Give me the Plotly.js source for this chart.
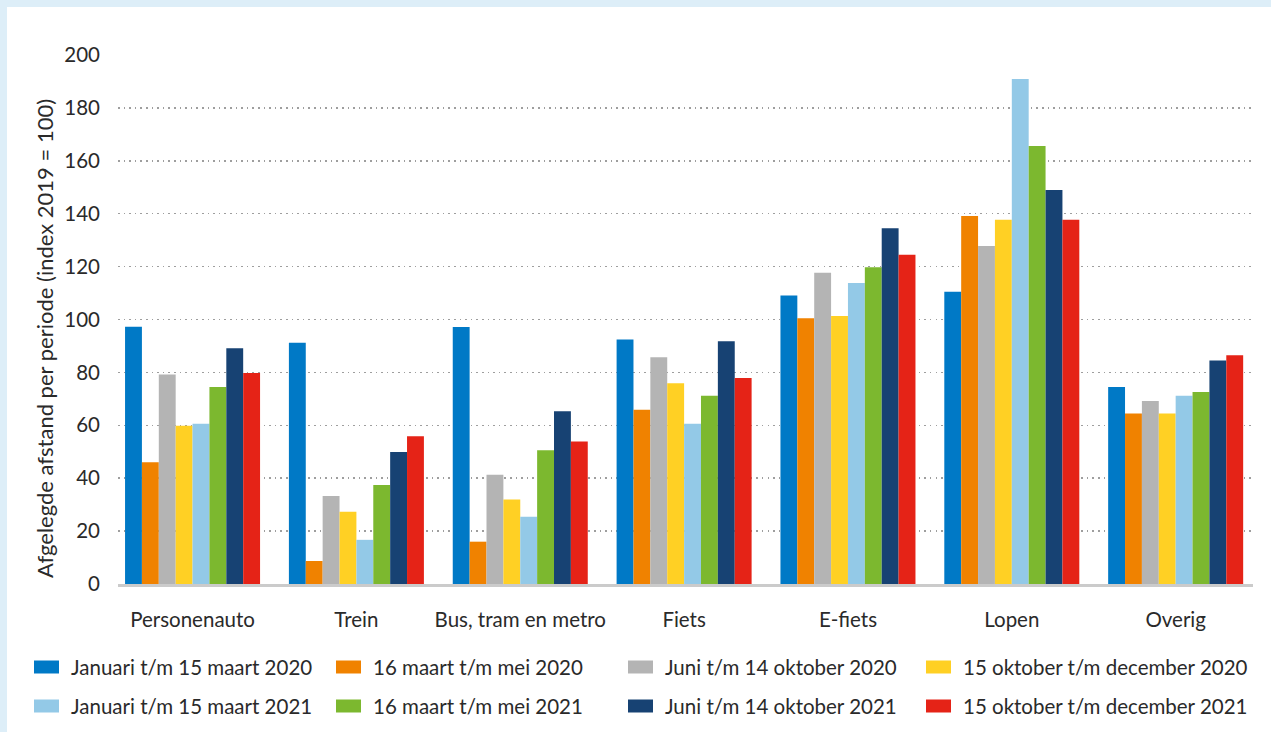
<!DOCTYPE html>
<html>
<head>
<meta charset="utf-8">
<script src="https://cdn.plot.ly/plotly-3.0.1.min.js"></script>
<style>
  html, body { margin: 0; padding: 0; background: #ddeef8; width: 1271px; height: 732px; overflow: hidden; }
  #chart { position: absolute; left: 7px; top: 7px; width: 1264px; height: 725px; background: #ffffff; }
</style>
</head>
<body>
<div id="chart"></div>
<script>
// ---- Data ----
const categories = ["Personenauto", "Trein", "Bus, tram en metro", "Fiets", "E-fiets", "Lopen", "Overig"];

const seriesNames = [
  "Januari t/m 15 maart 2020",
  "16 maart t/m mei 2020",
  "Juni t/m 14 oktober 2020",
  "15 oktober t/m december 2020",
  "Januari t/m 15 maart 2021",
  "16 maart t/m mei 2021",
  "Juni t/m 14 oktober 2021",
  "15 oktober t/m december 2021"
];

const jan2020   = [97.3, 91.2, 97.2, 92.4, 109.1, 110.5, 74.5];
const mrtMei2020 = [46.0, 8.7, 16.0, 65.9, 100.5, 139.1, 64.5];
const juniOkt2020 = [79.2, 33.3, 41.3, 85.7, 117.7, 127.8, 69.2];
const oktDec2020 = [59.8, 27.3, 31.9, 75.9, 101.3, 137.7, 64.5];
const jan2021   = [60.6, 16.7, 25.4, 60.6, 113.8, 190.9, 71.2];
const mrtMei2021 = [74.5, 37.4, 50.6, 71.2, 119.8, 165.6, 72.6];
const juniOkt2021 = [89.1, 49.9, 65.3, 91.8, 134.5, 149.0, 84.5];
const oktDec2021 = [79.8, 55.9, 53.9, 77.9, 124.5, 137.7, 86.5];

const seriesValues = [jan2020, mrtMei2020, juniOkt2020, oktDec2020, jan2021, mrtMei2021, juniOkt2021, oktDec2021];

const yTickVals = [0, 20, 40, 60, 80, 100, 120, 140, 160, 180, 200];
const yTitle = "Afgelegde afstand per periode (index 2019 = 100)";

// ---- Styles ----
const colors = ["#0079c6", "#f08200", "#b4b4b4", "#ffd024", "#93c9e7", "#7cb82f", "#174273", "#e52317"];
const FONT = "Lato, 'Noto Sans', sans-serif";
const TXT = "#2a2a2a";

const W = 1264, H = 725;
const M = { l: 111, r: 18, t: 48, b: 148 };
const PW = W - M.l - M.r, PH = H - M.t - M.b;
const px2x = p => (p - M.l) / PW;
const px2y = p => (H - M.b - p) / PH;

const traces = seriesValues.map((vals, i) => ({
  type: "bar",
  name: seriesNames[i],
  x: categories,
  y: vals,
  marker: { color: colors[i], line: { width: 0 } },
  showlegend: false,
  hoverinfo: "x+y+name"
}));

// custom legend: 2 rows x 4 columns
const colLeft = [27, 329, 621, 919];  // swatch left, div px
const rowCenter = [660, 699];        // div px
const shapes = [];
const annotations = [];
seriesNames.forEach((name, i) => {
  const r = Math.floor(i / 4), c = i % 4;
  shapes.push({
    type: "rect", xref: "paper", yref: "paper",
    xsizemode: "pixel", ysizemode: "pixel",
    xanchor: px2x(colLeft[c]), yanchor: px2y(rowCenter[r]),
    x0: 0, x1: 25, y0: -6.5, y1: 6.5,
    fillcolor: colors[i], line: { width: 0 }
  });
  annotations.push({
    xref: "paper", yref: "paper",
    x: px2x(colLeft[c] + 35), y: px2y(rowCenter[r]),
    xanchor: "left", yanchor: "middle",
    text: name, showarrow: false,
    font: { family: FONT, size: 20.5, color: TXT }
  });
});

annotations.push({
  xref: "paper", yref: "paper",
  x: px2x(37), y: px2y(332),
  xanchor: "center", yanchor: "middle",
  textangle: -90,
  text: yTitle, showarrow: false,
  font: { family: FONT, size: 22, color: TXT }
});

const layout = {
  width: W, height: H,
  margin: M,
  paper_bgcolor: "#ffffff",
  plot_bgcolor: "#ffffff",
  barmode: "group",
  bargap: 0.176,
  bargroupgap: 0,
  font: { family: FONT, color: TXT },
  xaxis: {
    type: "category",
    range: [-0.455, 6.472],
    showgrid: false,
    showline: true, linecolor: "#cbcbcb", linewidth: 3,
    ticks: "", ticklabelstandoff: 15,
    tickfont: { family: FONT, size: 20.5, color: TXT },
    fixedrange: true
  },
  yaxis: {
    range: [0, 200],
    tickvals: yTickVals,
    showgrid: true, gridcolor: "#9e9e9e", gridwidth: 1.5, griddash: "1.5px,4.1px",
    zeroline: false, showline: false,
    ticks: "", ticklabelstandoff: 17,
    tickfont: { family: FONT, size: 20.5, color: TXT },
    fixedrange: true
  },
  shapes: shapes,
  annotations: annotations,
  showlegend: false
};

Plotly.newPlot("chart", traces, layout, { displayModeBar: false, staticPlot: true });
</script>
</body>
</html>
